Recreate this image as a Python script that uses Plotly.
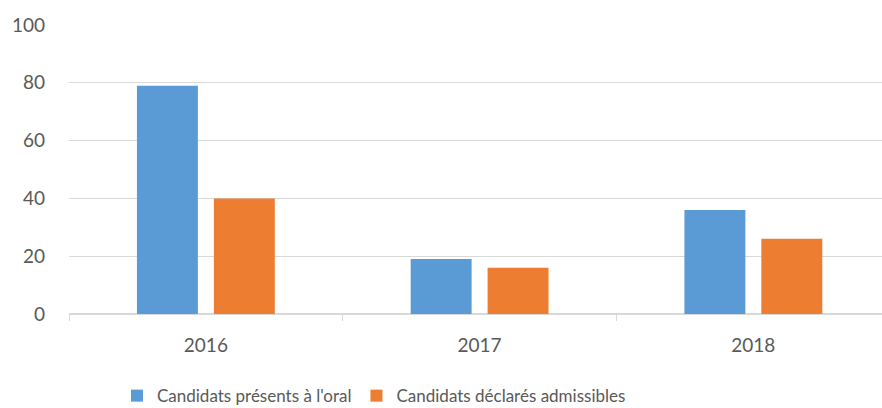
import plotly.graph_objects as go

categories = ["2016", "2017", "2018"]
presents = [79, 19, 36]
admissibles = [40, 16, 26]
series_names = ["Candidats présents à l'oral", "Candidats déclarés admissibles"]
y_ticks = [0, 20, 40, 60, 80, 100]

font = dict(family="Lato, Open Sans, sans-serif", size=19, color="#595959")
legend_font = dict(family="Lato, Open Sans, sans-serif", size=17, color="#595959")
grid = "#d9d9d9"

fig = go.Figure()
fig.add_trace(go.Bar(x=categories, y=presents, name=series_names[0],
                     marker=dict(color="#5b9bd5", line=dict(width=0)),
                     width=0.2226, offset=-0.2518))
fig.add_trace(go.Bar(x=categories, y=admissibles, name=series_names[1],
                     marker=dict(color="#ed7d31", line=dict(width=0)),
                     width=0.2226, offset=0.0292))

fig.update_layout(
    width=882, height=408,
    margin=dict(l=69, r=0, t=25, b=94, autoexpand=False),
    paper_bgcolor="white", plot_bgcolor="white",
    font=font,
    showlegend=True,
    legend=dict(orientation="h", x=0.059, xanchor="left", y=-0.284, yanchor="middle",
                font=legend_font, itemwidth=30, tracegroupgap=0),
    xaxis=dict(type="category", range=[-0.5, 2.47], tickson="boundaries",
               ticks="outside", ticklen=6, tickcolor=grid, automargin=False,
               showline=True, linecolor=grid, linewidth=1, showgrid=False,
               ticklabelstandoff=14, tickfont=font),
    yaxis=dict(range=[0, 100], tickvals=y_ticks, showgrid=True, gridcolor=grid,
               gridwidth=1, zeroline=True, zerolinecolor=grid, showline=False,
               automargin=False, ticks="", ticklabelstandoff=23, tickfont=font),
)

fig.write_html("out.html", config={"displayModeBar": False},
               post_script="document.body.style.margin='0';document.body.style.overflow='hidden';")
